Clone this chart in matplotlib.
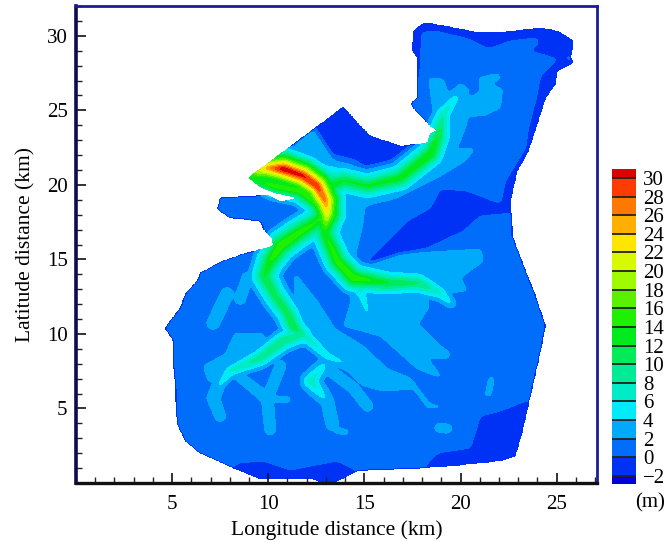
import numpy as np
import matplotlib
matplotlib.use('Agg')
import matplotlib.pyplot as plt
from matplotlib.colors import ListedColormap, BoundaryNorm
from matplotlib.path import Path
from matplotlib.ticker import MultipleLocator

plt.rcParams['font.family'] = ['Liberation Serif', 'DejaVu Serif']

# outline of the modelled area (km)
COAST = [(8.96, 20.47), (9.69, 19.80), (10.36, 19.46), (11.56, 19.12), (10.63, 18.86), (9.95, 19.33),
         (7.5, 19.12), (7.34, 18.39), (8.02, 17.78), (9.58, 17.58), (9.74, 17.04), (10.21, 16.44),
         (10.26, 15.90), (8.70, 15.37), (7.66, 14.90), (6.46, 14.09), (6.30, 13.55), (5.68, 12.68),
         (5.42, 11.74), (4.64, 10.40), (5.05, 9.53), (5.05, 8.19), (5.16, 6.37), (5.26, 3.96),
         (5.68, 2.82), (6.46, 2.01), (8.18, 1.01), (9.58, 0.27), (12.34, 0.27), (12.86, -0.07),
         (13.59, 0.13), (14.63, 0.81), (18.07, 1.01), (19.48, 1.14), (22.08, 1.48), (22.86, 1.81),
         (23.23, 3.49), (23.64, 5.84), (24.17, 8.86), (24.42, 10.53), (23.91, 12.55), (23.23, 14.76),
         (22.71, 16.57), (22.60, 18.92), (22.96, 20.94), (23.54, 22.28), (23.75, 23.15), (24.17, 24.76),
         (24.42, 25.83), (24.95, 26.77), (25.05, 27.65), (25.88, 28.18), (25.73, 28.52), (25.88, 29.66),
         (25.05, 30.33), (24.17, 30.53), (22.24, 30.26), (21.04, 30.20), (20.0, 30.46), (18.59, 30.80),
         (18.02, 30.80), (17.55, 30.33), (17.5, 28.99), (17.76, 28.52), (17.76, 25.83), (17.40, 25.43),
         (17.55, 25.16), (18.44, 23.95), (18.80, 23.62), (18.44, 23.48), (18.28, 22.81), (16.87, 22.61),
         (15.31, 23.28), (14.63, 24.16), (13.91, 25.23)]

# areas deeper than 0 m
DARK_A = [(13.91, 25.23), (14.63, 24.16), (15.31, 23.28), (16.87, 22.61), (18.28, 22.81), (17.76, 22.28),
          (16.87, 21.47), (15.83, 21.07), (14.27, 20.73), (13.38, 21.81), (12.45, 23.82)]
DARK_B = [(15.16, 14.90), (16.2, 16.24), (17.24, 17.58), (18.44, 18.45), (18.96, 19.73), (20.36, 19.59),
          (22.08, 18.72), (22.86, 18.12), (21.04, 17.92), (20.16, 16.91), (18.28, 15.77), (16.87, 15.37),
          (15.31, 14.76)]
DARK_E = [(25.05, 28.45), (24.17, 27.31), (23.91, 25.63), (23.54, 23.82), (23.39, 22.48), (22.34, 20.26),
          (22.08, 18.72), (22.86, 18.12), (23.64, 20.26), (25.2, 25.63), (26.8, 28.3)]
DARK_N = [(20.42, 29.79), (21.46, 29.12), (22.6, 29.66), (24.0, 29.86), (24.06, 29.46), (23.64, 28.99),
          (25.05, 28.45), (26.8, 29.0), (26.8, 31.0), (20.0, 31.0)]
DARK_NW = [(17.3, 31.0), (20.5, 31.0), (20.42, 29.79), (18.6, 30.35), (18.0, 30.2), (17.85, 27.0), (17.3, 27.0)]
DARK_SE = [(18.07, 1.01), (18.8, 2.01), (20.52, 2.35), (21.04, 4.49), (22.08, 4.83), (23.39, 5.5),
           (24.17, 5.5), (23.64, 0.8)]
DARK_S = [(8.18, 1.01), (8.39, 1.34), (9.74, 1.48), (11.15, 0.87), (13.59, 1.48), (14.63, 0.81),
          (14.63, -0.5), (8.18, -0.5)]

# areas of 2-4 m
LIGHT_NE = [(18.33, 27.18), (19.11, 27.11), (19.37, 26.1), (20.0, 26.84), (20.42, 26.44), (20.42, 25.77),
            (21.04, 26.3), (20.94, 27.18), (21.98, 27.51), (22.08, 27.11), (21.56, 26.77), (22.19, 26.44),
            (22.08, 25.16), (21.2, 24.63), (20.42, 24.63), (20.26, 23.82), (19.84, 22.48), (18.8, 21.94),
            (18.59, 24.76)]
LIGHT_C = [(14.01, 19.93), (16.87, 19.93), (18.44, 20.94), (18.96, 22.28), (20.78, 22.48), (20.26, 21.61),
           (18.96, 20.6), (17.92, 19.93), (16.72, 19.12), (15.05, 18.59), (14.9, 17.24), (14.53, 15.23),
           (15.05, 14.56), (13.75, 14.56), (13.49, 17.58)]
LIGHT_MID = [(15.05, 14.56), (16.87, 15.37), (21.04, 15.7), (21.2, 14.9), (20.0, 13.75), (20.36, 12.88),
             (18.28, 12.6), (15.5, 13.3), (14.27, 13.07), (13.75, 14.56)]
LIGHT_B = [(14.27, 13.07), (18.28, 13.55), (18.33, 11.73), (17.81, 10.67), (18.8, 9.39), (19.48, 8.72),
           (19.37, 8.32), (18.28, 8.39), (19.11, 6.98), (17.76, 7.65), (15.83, 9.86), (13.91, 10.53),
           (14.27, 12.0)]
LIGHT_A = [(11.30, 14.22), (12.55, 12.21), (13.49, 10.33), (14.95, 9.19), (16.2, 7.65), (17.4, 7.05),
           (18.44, 5.3), (19.11, 5.17), (18.96, 5.03), (18.28, 5.03), (17.55, 6.31), (15.99, 6.17),
           (14.95, 6.51), (14.11, 7.52), (13.23, 7.98), (11.82, 9.66), (11.51, 10.87)]
LIGHT_W = [(8.28, 10.07), (9.74, 10.07), (9.95, 8.86), (9.6, 8.1), (8.3, 7.6), (7.5, 6.6), (6.88, 6.84),
           (6.61, 7.85), (7.76, 8.66)]
LIGHT_WEDGE = [(12.34, 23.7), (13.38, 21.81), (14.27, 20.73), (14.0, 19.9), (11.67, 21.27), (10.2, 21.74),
               (11.15, 22.3)]

# channels: x km, y km, depth m, half width km
RED = [(9.32, 20.8, 18, 1.0), (9.95, 21.13, 26, 1.04), (10.78, 21.07, 33, 1.04), (11.82, 20.6, 32, 1.04),
       (12.55, 19.93, 31, 1.04), (12.97, 18.92, 28, 1.04), (13.07, 18.12, 23, 1.0), (12.97, 17.24, 17, 0.9)]
WEDGE_LOW = [(9.06, 20.4, 14, 0.5), (10.36, 19.93, 16, 0.73), (11.67, 19.6, 16, 0.73), (12.7, 18.59, 16, 0.73)]
WEDGE_TOP = [(10.2, 21.6, 6, 0.94), (14.01, 20.26, 9, 0.94)]
NORTH = [(12.9, 19.7, 15, 0.8), (13.91, 20.3, 13, 0.78), (15.16, 19.93, 13, 0.78), (16.87, 20.46, 14, 0.78),
         (18.44, 22.08, 15, 0.78), (18.85, 23.28, 13, 0.72), (19.11, 24.76, 8, 0.62), (19.74, 25.83, 5.5, 0.45)]
SOUTH_W = [(13.07, 18.12, 15, 0.89), (12.34, 17.38, 15, 0.89), (11.5, 16.7, 16, 0.89), (10.63, 15.9, 17, 0.89),
           (10.1, 14.9, 15, 0.85), (9.79, 13.89, 13, 0.8), (10.36, 12.55, 12, 0.75), (11.0, 11.4, 12, 0.72),
           (11.3, 10.53, 13, 0.68), (11.82, 9.86, 9, 0.6)]
BRANCH_SW = [(11.82, 10.0, 9, 0.6), (10.78, 9.53, 11, 0.62), (9.58, 8.39, 10, 0.58), (8.02, 7.51, 7, 0.48),
             (7.4, 6.5, 4.5, 0.4)]
BRANCH_SE = [(11.82, 10.0, 8, 0.55), (13.07, 8.52, 6, 0.45), (14.11, 7.98, 4, 0.4)]
SOUTH_E = [(13.07, 18.12, 16, 0.8), (12.97, 16.71, 15, 0.8), (13.59, 14.9, 16, 0.8), (14.43, 13.75, 17, 0.8),
           (16.2, 13.42, 13, 0.72), (17.76, 13.42, 11, 0.65), (18.96, 12.75, 7, 0.55), (19.48, 12.08, 4.5, 0.45)]
SOUTH_E_SIDE = [(14.53, 13.55, 9, 0.6), (14.9, 12.55, 6, 0.5), (15.16, 11.4, 4.5, 0.45)]
TRIB_1 = [(7.4, 6.5, 3.6, 0.7), (7.14, 5.7, 3.6, 0.7), (7.5, 4.5, 3.6, 0.6)]
TRIB_2 = [(8.39, 7.25, 3.6, 0.5), (9.95, 5.66, 4.5, 0.5), (10.1, 3.6, 3.6, 0.6)]
TRIB_3 = [(10.63, 7.85, 3.6, 0.6), (9.95, 5.66, 3.6, 0.6)]
TRIB_4 = [(12.86, 7.85, 5, 0.6), (12.19, 6.84, 8, 0.6), (13.07, 5.5, 3.6, 0.7), (13.33, 3.96, 3.6, 0.7)]
TRIB_5 = [(13.23, 7.52, 3.6, 0.6), (14.43, 6.37, 3.6, 0.6), (15.16, 5.17, 3.6, 0.6)]
TRIB_6 = [(9.95, 5.66, 3.6, 0.35), (11.0, 5.6, 3.6, 0.3)]
TRIB_7 = [(7.86, 12.68, 3.6, 0.7), (7.14, 10.73, 3.6, 0.7)]
TRIB_8 = [(8.9, 13.75, 3.6, 0.6), (8.54, 12.35, 3.6, 0.6)]
SPOT_1 = [(18.9, 3.7, 3.6, 0.5), (19.3, 3.65, 3.6, 0.5)]
SPOT_2 = [(13.55, 3.55, 3.6, 0.3), (14.0, 3.4, 3.6, 0.3)]
SPOT_3 = [(21.6, 6.9, 3.6, 0.3), (21.45, 6.0, 3.6, 0.3)]

LEVELS = list(range(-2, 32, 2))
BAND_COLORS = ['#0032f5', '#006efa', '#00aafa', '#00ebfa', '#00ebc8', '#00eb96', '#00eb5a', '#00eb1e',
               '#1ef000', '#5af000', '#a0fa00', '#d7fa00', '#ffe600', '#ffaf00', '#ff7800', '#ff3c00']
UNDER_COLOR = '#0000dc'
OVER_COLOR = '#dc0000'

xg = np.arange(0, 27.1, 0.04)
yg = np.arange(0, 32.0, 0.04)
X, Y = np.meshgrid(xg, yg)
pts = np.column_stack([X.ravel(), Y.ravel()])


def inside(poly):
    return Path(poly).contains_points(pts).reshape(X.shape)


def soften(a, n):
    for _ in range(n):
        a = (a + np.roll(a, 1, 0) + np.roll(a, -1, 0) + np.roll(a, 1, 1) + np.roll(a, -1, 1)) / 5
    return a


def channel_field(chan):
    # bell shaped cross section around the centre line, flat outside it
    c = np.array(chan)
    out = np.full(X.shape, -5.0)
    sy = 14.9 / 19.2  # same distance on the page in both directions
    for a, b in zip(c[:-1], c[1:]):
        dx, dy = b[0] - a[0], (b[1] - a[1]) * sy
        t = ((X - a[0]) * dx + (Y - a[1]) * sy * dy) / (dx ** 2 + dy ** 2)
        t = np.clip(t, 0, 1)
        d = np.hypot(X - a[0] - t * dx, (Y - a[1]) * sy - t * dy)
        peak = a[2] + t * (b[2] - a[2])
        hw = a[3] + t * (b[3] - a[3])
        hw = hw * (1 + 0.3 * np.clip((peak - 3.6) / 6, 0, 1))
        v = 1 + (peak - 1) * np.clip(1 - d / hw, 0, 1) ** 1.5
        out = np.maximum(out, np.where(d < hw, v, -5.0))
    return out


base = np.full(X.shape, 1.0)
for poly in [LIGHT_NE, LIGHT_C, LIGHT_MID, LIGHT_B, LIGHT_A, LIGHT_W, LIGHT_WEDGE]:
    base[inside(poly)] = 3.0
for poly in [DARK_A, DARK_B, DARK_E, DARK_N, DARK_NW, DARK_SE, DARK_S]:
    base[inside(poly)] = -1.0
base = soften(base, 20)

field = base.copy()
for chan in [RED, WEDGE_LOW, WEDGE_TOP, NORTH, SOUTH_W, BRANCH_SW, BRANCH_SE, SOUTH_E, SOUTH_E_SIDE,
             TRIB_1, TRIB_2, TRIB_3, TRIB_4, TRIB_5, TRIB_6, TRIB_7, TRIB_8, SPOT_1, SPOT_2, SPOT_3]:
    field = np.maximum(field, channel_field(chan))
field = soften(field, 10)

land = soften(inside(COAST).astype(float), 6) > 0.5
rim = land.copy()
for _ in range(2):
    rim = rim & np.roll(rim, 1, 0) & np.roll(rim, -1, 0) & np.roll(rim, 1, 1) & np.roll(rim, -1, 1)
field[land & ~rim & (field < 2)] = -1.0
field = np.ma.masked_where(~land, field)

cmap = ListedColormap(BAND_COLORS)
cmap.set_under(UNDER_COLOR)
cmap.set_over(OVER_COLOR)
norm = BoundaryNorm(LEVELS, cmap.N)

fig = plt.figure(figsize=(6.7, 5.43), dpi=100)
ax = fig.add_axes([76 / 670, 1 - 483 / 543, 521 / 670, 477 / 543])
cf = ax.contourf(X, Y, field, levels=LEVELS, cmap=cmap, norm=norm, extend='both')

ax.set_xlim(0, 27.1)
ax.set_ylim(0, 32)
ax.xaxis.set_minor_locator(MultipleLocator(1))
ax.yaxis.set_minor_locator(MultipleLocator(1))
ax.set_xticks([5, 10, 15, 20, 25])
ax.set_yticks([5, 10, 15, 20, 25, 30])
ax.tick_params(which='major', direction='in', length=7.5, width=1.2, labelsize=15, color='#111111')
ax.tick_params(axis='x', which='major', pad=8.5)
ax.tick_params(axis='y', which='major', pad=6)
ax.tick_params(which='minor', direction='in', length=4.3, width=1.0, color='#222222')
ax.set_xlabel('Longitude distance (km)', fontsize=15.5, labelpad=5)
ax.set_ylabel('Latitude distance (km)', fontsize=15.5, labelpad=8.5)
for side, col, lw in [('top', '#1c1c96', 2.0), ('right', '#1c1c96', 2.0),
                      ('left', '#0c0c50', 2.6), ('bottom', '#111111', 2.4)]:
    ax.spines[side].set_color(col)
    ax.spines[side].set_linewidth(lw)

cax = fig.add_axes([612 / 670, 1 - 484 / 543, 24 / 670, 315 / 543])
cb = fig.colorbar(cf, cax=cax, extend='both', extendrect=True, extendfrac=(0.027, 0.03), drawedges=True)
cb.set_ticks(LEVELS)
cb.ax.tick_params(length=0, labelsize=15, pad=5)
cb.outline.set_visible(False)
cb.dividers.set_color('#222222')
cb.dividers.set_linewidth(1.3)
fig.text(650 / 670, 1 - 503 / 543, '(m)', fontsize=15, ha='center', va='center')

fig.savefig('out.png', dpi=100)
